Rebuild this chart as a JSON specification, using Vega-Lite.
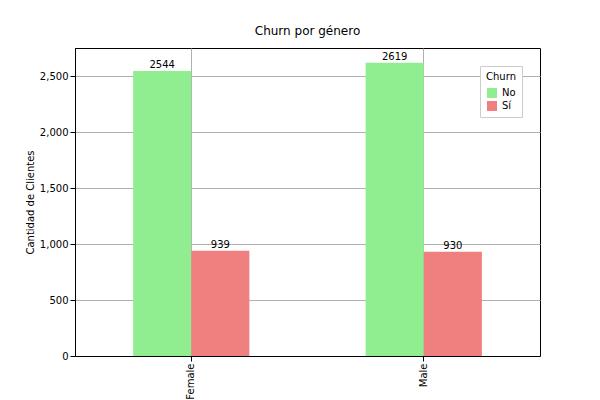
{
  "$schema": "https://vega.github.io/schema/vega-lite/v6.json",
  "width": 465,
  "height": 308,
  "autosize": {"type": "none"},
  "padding": {"left": 75, "top": 48, "right": 60, "bottom": 44},
  "background": "white",
  "title": {"text": "Churn por género", "font": "DejaVu Sans", "fontSize": 12, "fontWeight": "normal", "offset": 10},
  "data": {
    "values": [
      {"gender": "Female", "churn": "No", "count": 2544},
      {"gender": "Female", "churn": "Sí", "count": 939},
      {"gender": "Male", "churn": "No", "count": 2619},
      {"gender": "Male", "churn": "Sí", "count": 930}
    ]
  },
  "encoding": {
    "x": {
      "field": "gender",
      "type": "nominal",
      "title": null,
      "scale": {"paddingInner": 0.5, "paddingOuter": 0.25},
      "axis": {"labelAngle": -90, "grid": true, "bandPosition": 0.5, "labelBaseline": "middle", "labelAlign": "right"}
    },
    "xOffset": {"field": "churn", "type": "nominal", "scale": {"paddingInner": 0}},
    "y": {
      "field": "count",
      "type": "quantitative",
      "title": "Cantidad de Clientes",
      "scale": {"domain": [0, 2750], "nice": false},
      "axis": {"values": [0, 500, 1000, 1500, 2000, 2500], "grid": true}
    }
  },
  "layer": [
    {
      "mark": {"type": "bar"},
      "encoding": {
        "color": {
          "field": "churn",
          "type": "nominal",
          "title": "Churn",
          "scale": {"domain": ["No", "Sí"], "range": ["#90ee90", "#f08080"]},
          "legend": {"orient": "top-right", "symbolType": "square", "strokeColor": "#cccccc", "padding": 6, "fillColor": "white"}
        }
      }
    },
    {
      "mark": {"type": "text", "baseline": "bottom", "dy": -1, "fontSize": 10, "color": "black"},
      "encoding": {"text": {"field": "count", "type": "quantitative"}}
    }
  ],
  "config": {
    "font": "DejaVu Sans",
    "view": {"stroke": "black"},
    "axis": {
      "gridColor": "#b0b0b0",
      "domainColor": "black",
      "tickColor": "black",
      "labelColor": "black",
      "titleColor": "black",
      "labelFontSize": 10,
      "titleFontSize": 10,
      "titleFontWeight": "normal"
    },
    "legend": {"labelFontSize": 10, "titleFontSize": 10, "titleFontWeight": "normal", "titleAnchor": "middle"}
  }
}
